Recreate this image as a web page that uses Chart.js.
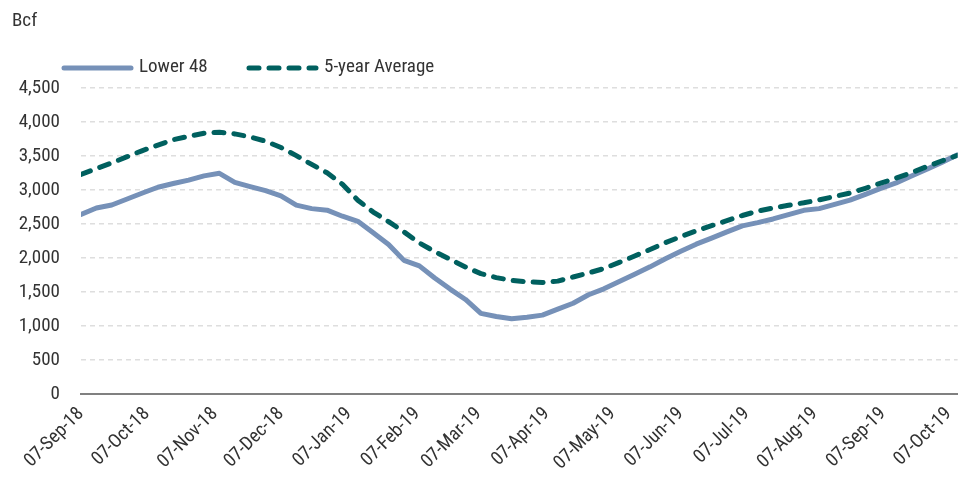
<!DOCTYPE html>
<html><head><meta charset="utf-8">
<script src="https://cdn.jsdelivr.net/npm/chart.js@4.4.0/dist/chart.umd.min.js"></script>
<style>html,body{margin:0;padding:0;background:#fff}#wrap{width:974px;height:479px}</style>
</head><body><div id="wrap"><canvas id="c" width="974" height="479"></canvas></div>
<script>
const unitLabel = 'Bcf';
const seriesNames = ['Lower 48', '5-year Average'];
const weekDates = [
 '2018-09-07','2018-09-14','2018-09-21','2018-09-28','2018-10-05','2018-10-12','2018-10-19','2018-10-26',
 '2018-11-02','2018-11-09','2018-11-16','2018-11-23','2018-11-30','2018-12-07','2018-12-14','2018-12-21','2018-12-28',
 '2019-01-04','2019-01-11','2019-01-18','2019-01-25','2019-02-01','2019-02-08','2019-02-15','2019-02-22',
 '2019-03-01','2019-03-08','2019-03-15','2019-03-22','2019-03-29','2019-04-05','2019-04-12','2019-04-19','2019-04-26',
 '2019-05-03','2019-05-10','2019-05-17','2019-05-24','2019-05-31','2019-06-07','2019-06-14','2019-06-21','2019-06-28',
 '2019-07-05','2019-07-12','2019-07-19','2019-07-26','2019-08-02','2019-08-09','2019-08-16','2019-08-23','2019-08-30',
 '2019-09-06','2019-09-13','2019-09-20','2019-09-27','2019-10-04','2019-10-11'
];
const lower48 = [
 2640, 2735, 2780, 2868, 2956, 3040, 3095, 3145, 3208, 3245,
 3113, 3050, 2990, 2914, 2778, 2726, 2703, 2614, 2540, 2370,
 2200, 1965, 1884, 1705, 1543, 1390, 1186, 1139, 1107, 1130,
 1160, 1247, 1335, 1460, 1547, 1653, 1760, 1870, 1990, 2100,
 2203, 2293, 2384, 2472, 2520, 2574, 2638, 2701, 2726, 2789,
 2850, 2936, 3024, 3104, 3205, 3304, 3410, 3518
];
const fiveYearAvg = [
 3229, 3315, 3399, 3490, 3580, 3660, 3740, 3790, 3835, 3850,
 3825, 3780, 3718, 3625, 3505, 3376, 3253, 3085, 2850, 2675,
 2535, 2384, 2221, 2094, 1980, 1868, 1770, 1712, 1670, 1650,
 1640, 1660, 1720, 1780, 1845, 1935, 2030, 2125, 2225, 2315,
 2400, 2475, 2550, 2625, 2690, 2735, 2775, 2812, 2855, 2905,
 2955, 3025, 3100, 3175, 3255, 3345, 3430, 3510
];
const tickDates = ['2018-09-07','2018-10-07','2018-11-07','2018-12-07','2019-01-07','2019-02-07','2019-03-07',
 '2019-04-07','2019-05-07','2019-06-07','2019-07-07','2019-08-07','2019-09-07','2019-10-07'];
const tickLabels = ['07-Sep-18','07-Oct-18','07-Nov-18','07-Dec-18','07-Jan-19','07-Feb-19','07-Mar-19',
 '07-Apr-19','07-May-19','07-Jun-19','07-Jul-19','07-Aug-19','07-Sep-19','07-Oct-19'];
const axisStart = '2018-09-07', axisEnd = '2019-10-11';
const yMin = 0, yMax = 4500, yStep = 500;

const FONT = "'Roboto Condensed', 'Liberation Sans Narrow', 'Roboto', sans-serif";
const TEXT = '#333333';
const toUTC = s => Date.UTC(+s.slice(0,4), +s.slice(5,7)-1, +s.slice(8,10));
const dayNum = s => (toUTC(s) - toUTC(axisStart)) / 86400000;
const tickDays = tickDates.map(dayNum);

Chart.defaults.font.family = FONT;
Chart.defaults.font.size = 19;
Chart.defaults.color = TEXT;

const headerPlugin = {
  id: 'header',
  afterDraw(chart) {
    const ctx = chart.ctx;
    ctx.save();
    ctx.font = '19px ' + FONT;
    ctx.fillStyle = TEXT;
    ctx.textBaseline = 'middle';
    ctx.textAlign = 'left';
    ctx.fillText(unitLabel, 12, 21);
    const starts = [64, 249];
    chart.data.datasets.forEach((ds, i) => {
      const x0 = starts[i], y = 68;
      ctx.beginPath();
      ctx.lineWidth = ds.borderWidth;
      ctx.strokeStyle = ds.borderColor;
      ctx.lineCap = 'round';
      ctx.setLineDash(ds.borderDash || []);
      ctx.moveTo(x0, y);
      ctx.lineTo(x0 + 67, y);
      ctx.stroke();
      ctx.setLineDash([]);
      ctx.fillText(ds.label, x0 + 75, y - 1);
    });
    ctx.restore();
  }
};

new Chart(document.getElementById('c'), {
  type: 'line',
  data: {
    datasets: [
      {
        label: seriesNames[0],
        data: weekDates.map((d, i) => ({x: dayNum(d), y: lower48[i]})),
        borderColor: '#7691b8', borderWidth: 5, borderJoinStyle: 'round', borderCapStyle: 'round',
        pointRadius: 0, tension: 0, fill: false, order: 1
      },
      {
        label: seriesNames[1],
        data: weekDates.map((d, i) => ({x: dayNum(d), y: fiveYearAvg[i]})),
        borderColor: '#00605f', borderWidth: 5, borderDash: [10, 10], borderCapStyle: 'round', borderJoinStyle: 'round',
        pointRadius: 0, tension: 0, fill: false, order: 0
      }
    ]
  },
  options: {
    responsive: false, animation: false,
    layout: { padding: { top: 88, left: 0, right: 4, bottom: 0 } },
    plugins: { legend: { display: false }, tooltip: { enabled: false }, title: { display: false } },
    scales: {
      x: {
        type: 'linear', min: 0, max: dayNum(axisEnd),
        afterBuildTicks: s => { s.ticks = tickDays.map(v => ({value: v})); },
        afterFit: s => { s.height = 85; },
        grid: { display: false, drawTicks: false },
        border: { display: true, color: '#808080', width: 2 },
        ticks: {
          autoSkip: false, maxRotation: 45, minRotation: 45, padding: 9,
          callback: (v, i) => tickLabels[i]
        }
      },
      y: {
        min: yMin, max: yMax,
        afterFit: s => { s.width = 81; },
        grid: { color: '#dedede', lineWidth: 1.5, drawTicks: false },
        border: { display: false, dash: [5, 4] },
        ticks: { stepSize: yStep, padding: 21 }
      }
    }
  },
  plugins: [headerPlugin]
});
</script>
</body></html>
